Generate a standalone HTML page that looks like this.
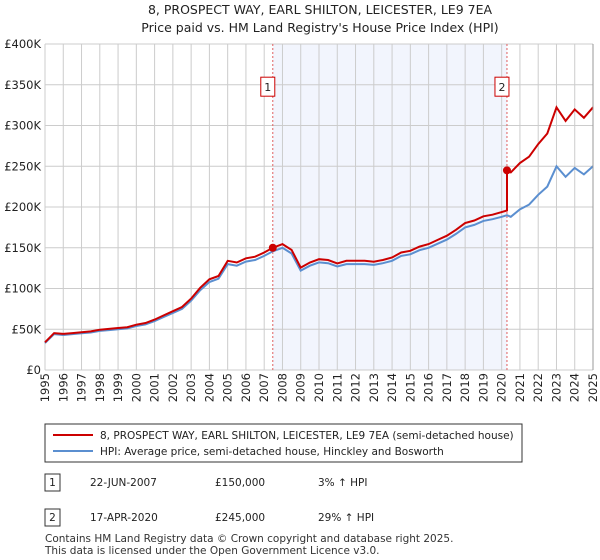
<!DOCTYPE html>
<html><head><meta charset="utf-8"><style>
body{margin:0;background:#fff;font-family:"Liberation Sans",sans-serif;}
svg{display:block}
</style></head><body>
<svg width="600" height="560" viewBox="0 0 600 560" xmlns="http://www.w3.org/2000/svg" font-family="DejaVu Sans, Liberation Sans, sans-serif">
<text x="320" y="14" text-anchor="middle" font-size="12.5" fill="#222">8, PROSPECT WAY, EARL SHILTON, LEICESTER, LE9 7EA</text>
<text x="320" y="32" text-anchor="middle" font-size="12.5" fill="#222">Price paid vs. HM Land Registry's House Price Index (HPI)</text>
<g id="plot"></g>
<g>
<rect x="45" y="424" width="477" height="38" fill="#fff" stroke="#333"/>
<line x1="53" y1="435" x2="93" y2="435" stroke="#cc0000" stroke-width="2"/>
<text x="100" y="439" font-size="10.5" fill="#222">8, PROSPECT WAY, EARL SHILTON, LEICESTER, LE9 7EA (semi-detached house)</text>
<line x1="53" y1="451" x2="93" y2="451" stroke="#5b8fd0" stroke-width="2"/>
<text x="100" y="455" font-size="10.5" fill="#222">HPI: Average price, semi-detached house, Hinckley and Bosworth</text>
</g>
<g font-size="10.5" fill="#222">
<rect x="45" y="474" width="15" height="17" fill="#fff" stroke="#333"/>
<text x="52.5" y="486" text-anchor="middle">1</text>
<text x="90" y="486">22-JUN-2007</text>
<text x="215" y="486">£150,000</text>
<text x="318" y="486">3% ↑ HPI</text>
<rect x="45" y="509" width="15" height="17" fill="#fff" stroke="#333"/>
<text x="52.5" y="521" text-anchor="middle">2</text>
<text x="90" y="521">17-APR-2020</text>
<text x="215" y="521">£245,000</text>
<text x="318" y="521">29% ↑ HPI</text>
</g>
<text x="45" y="542" font-size="10.5" fill="#333">Contains HM Land Registry data © Crown copyright and database right 2025.</text>
<text x="45" y="554" font-size="10.5" fill="#333">This data is licensed under the Open Government Licence v3.0.</text>
</svg>
<script>
const hpiYears=[1995,1995.5,1996,1996.5,1997,1997.5,1998,1998.5,1999,1999.5,2000,2000.5,2001,2001.5,2002,2002.5,2003,2003.5,2004,2004.5,2005,2005.5,2006,2006.5,2007,2007.47,2008,2008.5,2009,2009.5,2010,2010.5,2011,2011.5,2012,2012.5,2013,2013.5,2014,2014.5,2015,2015.5,2016,2016.5,2017,2017.5,2018,2018.5,2019,2019.5,2020,2020.29,2020.5,2021,2021.5,2022,2022.5,2023,2023.5,2024,2024.5,2025];
const hpiValues=[33,44,43,44,45,46,48,49,50,51,54,56,60,65,70,75,85,98,108,112,130,128,133,135,140,145.6,150,143,122,128,132,131,127,130,130,130,129,131,134,140,142,147,150,155,160,167,175,178,183,185,188,190,188,197,203,215,225,250,237,248,240,250];
const saleYears=[2007.47,2020.29];
const salePrices=[150,245];
const yTicks=[0,50,100,150,200,250,300,350,400];
const yTickLabels=["£0","£50K","£100K","£150K","£200K","£250K","£300K","£350K","£400K"];
const xTicks=[1995,1996,1997,1998,1999,2000,2001,2002,2003,2004,2005,2006,2007,2008,2009,2010,2011,2012,2013,2014,2015,2016,2017,2018,2019,2020,2021,2022,2023,2024,2025];

const NS="http://www.w3.org/2000/svg";
const L=45,R=593,T=44,B=370;
const X=y=>L+(y-1995)/30*(R-L);
const Y=v=>B-v/400*(B-T);
const g=document.getElementById('plot');
function mk(t,a){const e=document.createElementNS(NS,t);for(const k in a)e.setAttribute(k,a[k]);g.appendChild(e);return e;}
function hpiAt(t){for(let i=0;i<hpiYears.length-1;i++){if(t>=hpiYears[i]&&t<=hpiYears[i+1]){const f=(t-hpiYears[i])/(hpiYears[i+1]-hpiYears[i]);return hpiValues[i]+f*(hpiValues[i+1]-hpiValues[i]);}}return hpiValues[hpiValues.length-1];}

let e=mk('rect',{x:X(saleYears[0]),y:T,width:X(saleYears[1])-X(saleYears[0]),height:B-T,fill:'#eef2fc',opacity:0.75});


yTicks.forEach((v,i)=>{
 let l=mk('line',{x1:L,x2:R,y1:Y(v),y2:Y(v),stroke:'#ccc','stroke-width':1});
 
 
 let t=mk('text',{x:L-4,y:Y(v)+4,'text-anchor':'end','font-size':11.5,fill:'#222'});
 t.textContent=yTickLabels[i];
 
 
});
xTicks.forEach(yr=>{
 let l=mk('line',{x1:X(yr),x2:X(yr),y1:T,y2:B,stroke:'#ccc','stroke-width':1});
 
 
 let t=mk('text',{x:0,y:0,'text-anchor':'end','font-size':11.5,fill:'#222',transform:`translate(${X(yr)+4},${B+3}) rotate(-90)`});
 t.textContent=yr;
 
 
});
saleYears.forEach((s,i)=>{
 let l=mk('line',{x1:X(s),x2:X(s),y1:T,y2:B,stroke:'#e06060','stroke-width':1,'stroke-dasharray':'2,2'});
 
 
 let r=mk('rect',{x:X(s)-12,y:Y(347)-10,width:14,height:19,fill:'#fff',stroke:'#cc0000'});
 
 
 let t=mk('text',{x:X(s)-5,y:Y(347)+4,'text-anchor':'middle','font-size':11,fill:'#222'});
 t.textContent=i+1;
 
 
});
// HPI line
let hp=hpiYears.map((yr,i)=>X(yr).toFixed(1)+','+Y(hpiValues[i]).toFixed(1)).join(' ');
e=mk('polyline',{points:hp,fill:'none',stroke:'#5b8fd0','stroke-width':2});


// price line: HPI scaled relative to most recent sale
const r0=salePrices[0]/hpiAt(saleYears[0]), r1=salePrices[1]/hpiAt(saleYears[1]);
let pts=[];
hpiYears.forEach((yr,i)=>{
 if(yr<saleYears[1]) pts.push([yr,hpiValues[i]*r0]);
 else if(yr===saleYears[1]){pts.push([yr,hpiValues[i]*r0]);pts.push([yr,hpiValues[i]*r1]);}
 else pts.push([yr,hpiValues[i]*r1]);
});
e=mk('polyline',{points:pts.map(p=>X(p[0]).toFixed(1)+','+Y(p[1]).toFixed(1)).join(' '),fill:'none',stroke:'#cc0000','stroke-width':2});


saleYears.forEach((s,i)=>{
 let c=mk('circle',{cx:X(s),cy:Y(salePrices[i]),r:4,fill:'#cc0000'});
 
 
});
e=mk('line',{x1:R,x2:R,y1:T,y2:B,stroke:'#999'});


</script>
</body></html>
